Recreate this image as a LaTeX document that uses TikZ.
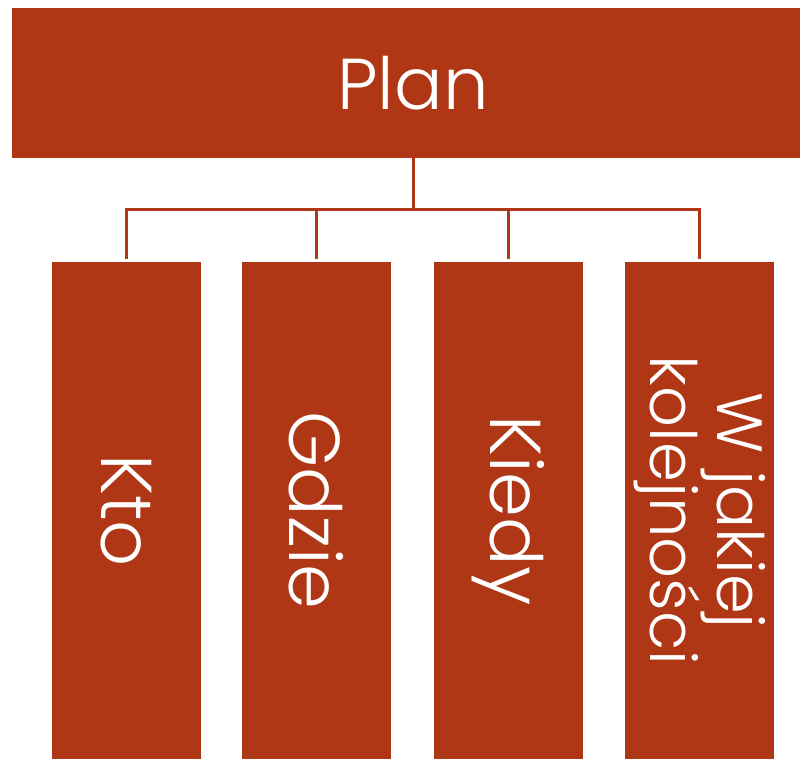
\documentclass[tikz,border=0pt]{standalone}
\usepackage{fontspec}
\IfFontExistsTF{Poppins Light}{\setmainfont{Poppins Light}}{\setmainfont{Poppins}}
\definecolor{rust}{RGB}{176,55,22}
\begin{document}
\begin{tikzpicture}[x=1pt,y=-1pt,
  box/.style={fill=rust, draw=none, inner sep=0pt, text=white, align=center,
    font=\fontsize{72}{68}\selectfont},
  child/.style={box, rotate=-90, minimum width=497pt, minimum height=149pt},
  conn/.style={draw=rust, line width=3pt, line join=miter}]
\useasboundingbox (0,0) rectangle (800,759);
\node[box, minimum width=802pt, minimum height=150pt] (plan) at (413,83) {Plan};
\node[child] (kto) at (126.5,510.5) {Kto};
\node[child] (gdzie) at (316.5,510.5) {Gdzie};
\node[child] (kiedy) at (508,510.5) {Kiedy};
\node[child, font=\fontsize{64}{63}\selectfont] (kol) at (699.5,510.5) {W jakiej\\kolejności};
\coordinate (hub) at (plan.south |- 0,210);
\draw[conn] (plan.south) -- (hub);
\draw[conn, shorten >=3pt] (hub) -| (kto.west);
\draw[conn, shorten >=3pt] (hub) -| (gdzie.west);
\draw[conn, shorten >=3pt] (hub) -| (kiedy.west);
\draw[conn, shorten >=3pt] (hub) -| (kol.west);
\end{tikzpicture}
\end{document}
